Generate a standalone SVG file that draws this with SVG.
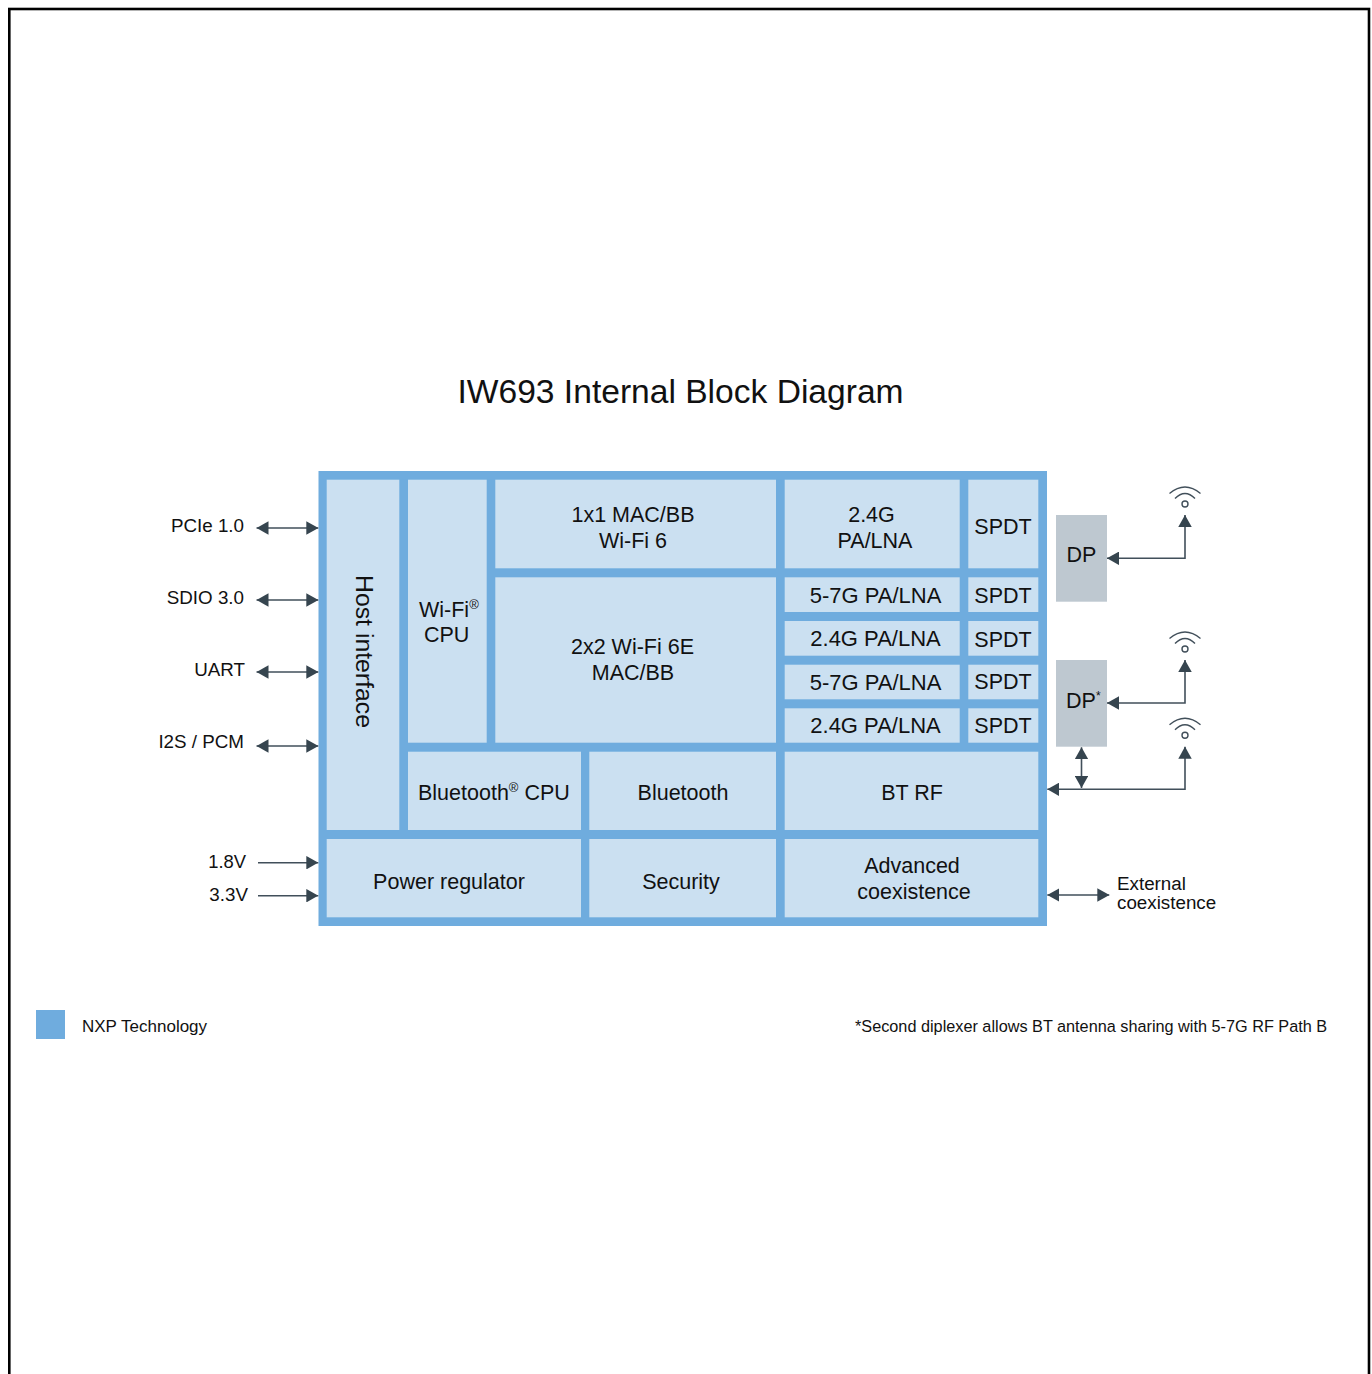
<svg xmlns="http://www.w3.org/2000/svg" width="1372" height="1374" viewBox="0 0 1372 1374">
<style>
text{font-family:"Liberation Sans",Arial,sans-serif;fill:#111;font-size:21.5px}
.b{fill:#cbe0f1}
.m{text-anchor:middle}
.p{font-size:22px}
.l{font-size:18.8px}
.e{text-anchor:end;font-size:18.8px}
.c{fill:none;stroke:#414f5a;stroke-width:1.6}
.w{fill:none;stroke:#414f5a;stroke-width:1.4}
.d{fill:#bec8d0}
.s{font-size:13px}
</style>
<defs>
<marker id="a" viewBox="0 0 12 13.5" refX="12" refY="6.75" markerWidth="12" markerHeight="13.5" markerUnits="userSpaceOnUse" orient="auto-start-reverse"><path d="M0 0L12 6.75L0 13.5Z" fill="#36454f"/></marker>
<g id="wifi"><circle cx="0" cy="0" r="3" class="w"/><path d="M-10 -5.5Q0 -15.5 10 -5.5" class="w"/><path d="M-15.5 -10.5Q0 -23.5 15.5 -10.5" class="w"/></g>
</defs>
<rect x="9.3" y="9" width="1359.7" height="1375" fill="#fff" stroke="#000" stroke-width="2.6"/>
<text id="title" x="457.5" y="403" style="font-size:33.6px">IW693 Internal Block Diagram</text>
<rect id="frame" x="318.5" y="471" width="728.5" height="455" fill="#6facde"/>
<g id="host"><rect class="b" x="326.7" y="479.7" width="72.6" height="350.3"/><text transform="translate(356 575) rotate(90)" style="font-size:24.8px">Host interface</text></g>
<g id="wifi-cpu"><rect class="b" x="408" y="479.7" width="78.7" height="263"/><text x="419" y="617">Wi-Fi<tspan class="s" dy="-8">®</tspan></text><text x="424" y="642">CPU</text></g>
<g id="mac1"><rect class="b" x="495.3" y="479.7" width="280.7" height="88.6"/><text class="m" x="633" y="522">1x1 MAC/BB</text><text class="m" x="633" y="548">Wi-Fi 6</text></g>
<g id="mac2"><rect class="b" x="495.3" y="577.3" width="280.7" height="165.4"/><text class="m" x="632.5" y="654">2x2 Wi-Fi 6E</text><text class="m" x="633" y="680">MAC/BB</text></g>
<g id="pa0"><rect class="b" x="784.7" y="479.7" width="175" height="88.6"/><text class="m" x="871.5" y="522">2.4G</text><text class="m" x="875" y="548">PA/LNA</text></g>
<g id="sp0"><rect class="b" x="968.3" y="479.7" width="70" height="88.6"/><text class="m" x="1003" y="534">SPDT</text></g>
<g id="pa1"><rect class="b" x="784.7" y="577.3" width="175" height="34.7"/><text class="m p" x="875.5" y="603">5-7G PA/LNA</text></g>
<g id="sp1"><rect class="b" x="968.3" y="577.3" width="70" height="34.7"/><text class="m" x="1003" y="603">SPDT</text></g>
<g id="pa2"><rect class="b" x="784.7" y="621" width="175" height="34.7"/><text class="m p" x="875.5" y="646">2.4G PA/LNA</text></g>
<g id="sp2"><rect class="b" x="968.3" y="621" width="70" height="34.7"/><text class="m" x="1003" y="647">SPDT</text></g>
<g id="pa3"><rect class="b" x="784.7" y="664.7" width="175" height="34.6"/><text class="m p" x="875.5" y="690">5-7G PA/LNA</text></g>
<g id="sp3"><rect class="b" x="968.3" y="664.7" width="70" height="34.6"/><text class="m" x="1003" y="689">SPDT</text></g>
<g id="pa4"><rect class="b" x="784.7" y="708.3" width="175" height="34.4"/><text class="m p" x="875.5" y="733">2.4G PA/LNA</text></g>
<g id="sp4"><rect class="b" x="968.3" y="708.3" width="70" height="34.4"/><text class="m" x="1003" y="733">SPDT</text></g>
<g id="bt-cpu"><rect class="b" x="408" y="751.7" width="173" height="78.3"/><text x="418" y="800">Bluetooth<tspan class="s" dy="-8">®</tspan><tspan dy="8"> CPU</tspan></text></g>
<g id="bt"><rect class="b" x="589.3" y="751.7" width="186.7" height="78.3"/><text class="m" x="683" y="800">Bluetooth</text></g>
<g id="bt-rf"><rect class="b" x="784.7" y="751.7" width="253.6" height="78.3"/><text class="m" x="912" y="800">BT RF</text></g>
<g id="power"><rect class="b" x="326.7" y="839" width="254.3" height="78.3"/><text class="m" x="449" y="889">Power regulator</text></g>
<g id="security"><rect class="b" x="589.3" y="839" width="186.7" height="78.3"/><text class="m" x="681" y="889">Security</text></g>
<g id="coex"><rect class="b" x="784.7" y="839" width="253.6" height="78.3"/><text class="m" x="912" y="873">Advanced</text><text class="m" x="914" y="899">coexistence</text></g>
<g id="dp1"><rect class="d" x="1056" y="515" width="51" height="86.7"/><text class="m" x="1081.5" y="562">DP</text></g>
<g id="dp2"><rect class="d" x="1056" y="660" width="51" height="86.7"/><text x="1066" y="708">DP<tspan dy="-8" style="font-size:12px">*</tspan></text></g>
<g id="antennas"><use href="#wifi" x="1185" y="504"/><use href="#wifi" x="1185" y="649"/><use href="#wifi" x="1185" y="735.3"/></g>
<g id="connectors">
<path class="c" marker-start="url(#a)" marker-end="url(#a)" d="M256.5 528H318.3"/>
<path class="c" marker-start="url(#a)" marker-end="url(#a)" d="M256.5 600H318.3"/>
<path class="c" marker-start="url(#a)" marker-end="url(#a)" d="M256.5 672H318.3"/>
<path class="c" marker-start="url(#a)" marker-end="url(#a)" d="M256.5 746H318.3"/>
<path class="c" marker-end="url(#a)" d="M258 862.7H318.3"/>
<path class="c" marker-end="url(#a)" d="M258 895.7H318.3"/>
<path class="c" marker-start="url(#a)" marker-end="url(#a)" d="M1107 558.3H1185V515"/>
<path class="c" marker-start="url(#a)" marker-end="url(#a)" d="M1107 703H1185V660"/>
<path class="c" marker-start="url(#a)" marker-end="url(#a)" d="M1047.3 789.3H1185V746.7"/>
<path class="c" marker-start="url(#a)" marker-end="url(#a)" d="M1081.5 747.3V788"/>
<path class="c" marker-start="url(#a)" marker-end="url(#a)" d="M1047.3 895H1109.3"/>
</g>
<g id="labels">
<text class="e" x="244" y="532">PCIe 1.0</text>
<text class="e" x="244" y="604">SDIO 3.0</text>
<text class="e" x="245" y="676">UART</text>
<text class="e" x="244" y="748">I2S / PCM</text>
<text class="e" x="246" y="868" style="font-size:18.4px">1.8V</text>
<text class="e" x="248" y="901">3.3V</text>
<text class="l" x="1117" y="890">External</text>
<text class="l" x="1117" y="909">coexistence</text>
</g>
<g id="legend"><rect x="36" y="1010" width="29" height="29" fill="#6facde"/><text x="82" y="1032" style="font-size:17px">NXP Technology</text></g>
<text id="note" x="855" y="1032" style="font-size:16.25px">*Second diplexer allows BT antenna sharing with 5-7G RF Path B</text>
</svg>
